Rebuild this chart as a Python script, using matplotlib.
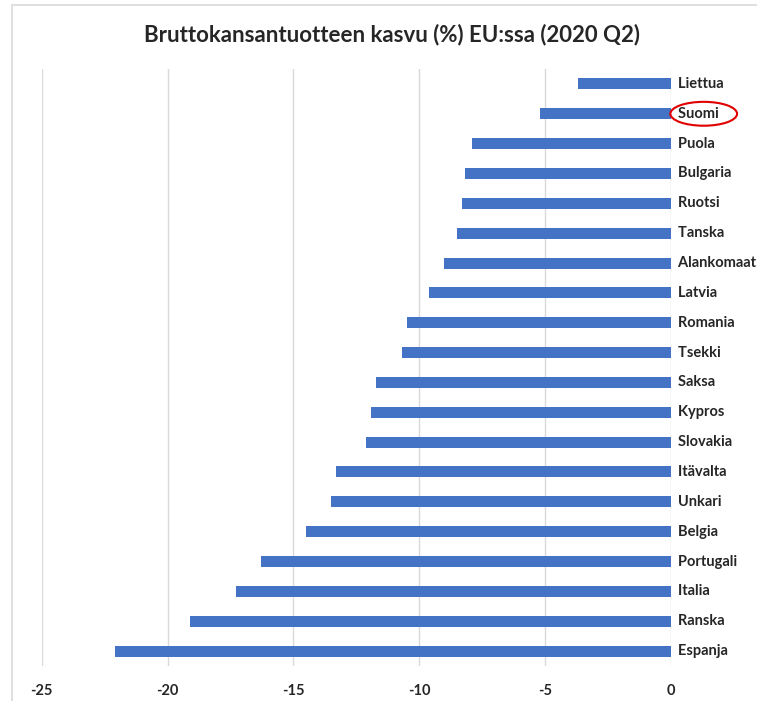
import matplotlib
matplotlib.use("Agg")
import matplotlib.pyplot as plt
from matplotlib.patches import Rectangle, Ellipse

# BKT:n kasvu (%) 2020 Q2, ylhäältä alas
maat = ["Liettua", "Suomi", "Puola", "Bulgaria", "Ruotsi", "Tanska", "Alankomaat",
        "Latvia", "Romania", "Tsekki", "Saksa", "Kypros", "Slovakia", "Itävalta",
        "Unkari", "Belgia", "Portugali", "Italia", "Ranska", "Espanja"]
kasvu = [-3.7, -5.2, -7.9, -8.2, -8.3, -8.5, -9.0, -9.6, -10.5, -10.7, -11.7,
         -11.9, -12.1, -13.3, -13.5, -14.5, -16.3, -17.3, -19.1, -22.1]
xticks = [-25, -20, -15, -10, -5, 0]

W, H = 757, 701
fig = plt.figure(figsize=(W / 100, H / 100), dpi=100)
plt.rcParams["font.family"] = ["Lato", "DejaVu Sans"]

# kehys
fig.patches.append(Rectangle((12 / W, -0.01), 1.0, 1 - 5 / H + 0.01, transform=fig.transFigure,
                             fill=False, edgecolor="#d9d9d9", linewidth=1.2))

ax = fig.add_axes([41.7 / W, 1 - 666 / H, (671 - 41.7) / W, (666 - 69) / H])
y = list(range(len(maat)))
ax.barh(y, kasvu, height=0.37, color="#4472c4", zorder=3)
ax.set_xlim(-25, 0)
ax.set_ylim(len(maat) - 0.5, -0.5)
ax.set_xticks(xticks)
ax.set_xticklabels([str(t) for t in xticks], fontsize=10.5, fontweight="bold", color="#262626")
ax.tick_params(axis="x", length=0, pad=13)
ax.set_yticks([])
for s in ax.spines.values():
    s.set_visible(False)
ax.grid(axis="x", color="#d9d9d9", linewidth=1, zorder=0)

for yi, nimi in zip(y, maat):
    ax.text(0, yi, "  " + nimi, ha="left", va="center", fontsize=10.5, fontweight="bold",
            color="#262626", clip_on=False)

# Suomi korostettu punaisella ellipsillä
ax.add_patch(Ellipse((1.3, 1), 2.65, 0.8, fill=False, edgecolor="#e00000", linewidth=1.5,
                     clip_on=False, zorder=5))

fig.text(392 / W, 1 - 35 / H, "Bruttokansantuotteen kasvu (%) EU:ssa (2020 Q2)",
         ha="center", va="center", fontsize=16, fontweight="bold", color="#262626")

fig.savefig("out.png", dpi=100)
